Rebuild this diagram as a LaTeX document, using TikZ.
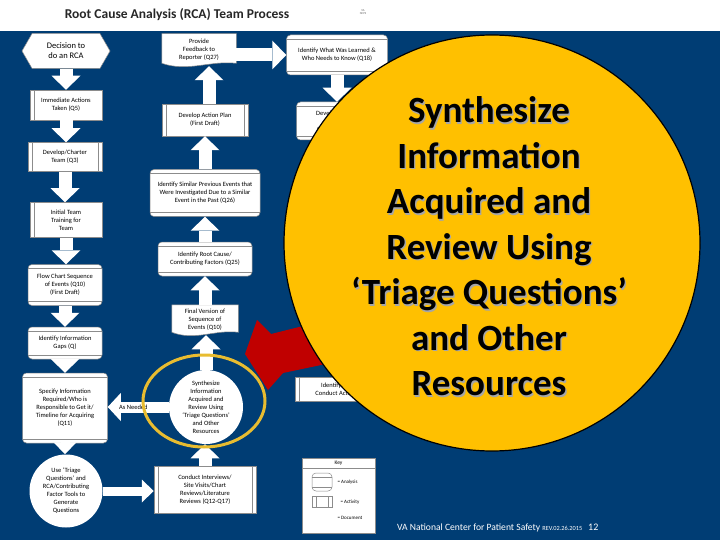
\documentclass[tikz,border=0pt]{standalone}
\usepackage{fontspec}
\setmainfont{Carlito}
\usetikzlibrary{shapes.symbols,shapes.geometric,arrows.meta,calc}
\pgfdeclarelayer{bg}\pgfdeclarelayer{back}\pgfdeclarelayer{front}
\pgfsetlayers{bg,back,main,front}
\definecolor{vablue}{RGB}{0,61,116}
\definecolor{circyellow}{RGB}{255,192,0}
\definecolor{ringyellow}{RGB}{232,188,48}
\definecolor{arrowred}{RGB}{192,0,0}
\definecolor{boxline}{RGB}{140,140,140}
\tikzset{
 box/.style={fill=white, draw=boxline, line width=0.5pt, align=center,
   font=\fontsize{6.5}{8}\selectfont, inner sep=1pt, text=black},
 act/.style={box, rectangle, path picture={\draw[boxline,line width=0.6pt]
   ([xshift=4pt]path picture bounding box.north west) -- ([xshift=4pt]path picture bounding box.south west)
   ([xshift=-4pt]path picture bounding box.north east) -- ([xshift=-4pt]path picture bounding box.south east);}},
 actL/.style={box, rectangle, path picture={\draw[boxline,line width=0.6pt]
   ([xshift=4pt]path picture bounding box.north west) -- ([xshift=4pt]path picture bounding box.south west);}},
 ana/.style={box, rectangle, rounded corners=4pt, path picture={\draw[boxline,line width=0.6pt]
   ([yshift=-4pt]path picture bounding box.north west) -- ([yshift=-4pt]path picture bounding box.north east)
   ([yshift=4pt]path picture bounding box.south west) -- ([yshift=4pt]path picture bounding box.south east);}},
 docn/.style={box, rectangle, draw=none, fill=none},
 barrow/.style={draw=white, line width=13pt, -{Triangle[width=29pt,length=14pt,line width=0pt]}},
 tarrow/.style={draw=white, line width=9pt, -{Triangle[width=23pt,length=12pt,line width=0pt]}},
 narrow/.style={draw=white, line width=11pt, -{Triangle[width=28pt,length=13pt,line width=0pt]}},
 bigtext/.style={font=\fontsize{37}{45.5}\selectfont\bfseries, align=center},
}
\newcommand{\docbg}[1]{\begin{pgfonlayer}{back}\filldraw[fill=white,draw=boxline,line width=0.5pt]
  (#1.north west) -- ([yshift=3pt]#1.south west)
  .. controls ($(#1.south west)!0.35!(#1.south east)+(0,6)$) and ($(#1.south west)!0.65!(#1.south east)+(0,-6)$)
  .. ([yshift=3pt]#1.south east) -- (#1.north east) -- cycle;\end{pgfonlayer}}
\begin{document}
\begin{tikzpicture}[x=1pt,y=-1pt]
\useasboundingbox (0,0) rectangle (720,540);
\begin{pgfonlayer}{bg}
\fill[white] (0,0) rectangle (720,540);
\fill[vablue] (0,31) rectangle (720,540);
\end{pgfonlayer}
% header and footer
\node[font=\fontsize{13.5}{15}\selectfont\bfseries, text=black!85] (title) at (177,15) {Root Cause Analysis (RCA) Team Process};
\node[font=\fontsize{3}{3.5}\selectfont, text=black!60, align=center] (logo) at (363,12) {VA\\NCPS};
\node[anchor=base west, text=white, font=\fontsize{9.6}{10}\selectfont, inner sep=0pt] (foot) at (397,530)
  {VA National Center for Patient Safety {\fontsize{6.3}{7}\selectfont REV.02.26.2015}\hspace{6pt}{\fontsize{10}{10}\selectfont 12}};
% left column
\node[box, shape=signal, signal to=east and west, signal pointer angle=120, minimum width=88pt, minimum height=35pt,
  font=\fontsize{8.5}{10}\selectfont] (b1) at (66,51) {Decision to\\do an RCA};
\node[actL, minimum width=72pt, minimum height=30pt] (b2) at (66,105) {Immediate Actions\\Taken (Q5)};
\node[act, minimum width=74pt, minimum height=29pt] (b3) at (65,157) {Develop/Charter\\Team (Q3)};
\node[actL, minimum width=72pt, minimum height=35pt] (b4) at (66,220) {Initial Team\\Training for\\Team};
\node[ana, minimum width=74pt, minimum height=41pt] (b5) at (65,285) {Flow Chart Sequence\\of Events (Q10)\\(First Draft)};
\node[ana, minimum width=74pt, minimum height=32pt] (b6) at (65,343) {Identify Information\\Gaps (Q)};
\node[ana, minimum width=85pt, minimum height=70pt] (b7) at (65,408) {Specify Information\\Required/Who is\\Responsible to Get it/\\Timeline for Acquiring\\(Q11)};
\node[box, circle, draw=none, minimum size=73pt] (b8) at (66,491) {Use ‘Triage\\Questions’ and\\RCA/Contributing\\Factor Tools to\\Generate\\Questions};
% middle column
\node[docn, minimum width=74pt, minimum height=32pt] (m1) at (199,50) {Provide\\Feedback to\\Reporter (Q27)};
\docbg{m1}
\node[act, minimum width=86pt, minimum height=32pt] (m2) at (205,120) {Develop Action Plan\\(First Draft)};
\node[ana, minimum width=110pt, minimum height=47pt] (m3) at (205,193) {Identify Similar Previous Events that\\Were Investigated Due to a Similar\\Event in the Past (Q26)};
\node[ana, minimum width=94pt, minimum height=34pt] (m4) at (205,259) {Identify Root Cause/\\Contributing Factors (Q25)};
\node[docn, minimum width=66pt, minimum height=30pt] (m5) at (205,320) {Final Version of\\Sequence of\\Events (Q10)};
\docbg{m5}
\node[box, circle, draw=none, minimum size=74pt] (m6) at (206,407) {Synthesize\\Information\\Acquired and\\Review Using\\‘Triage Questions’\\and Other\\Resources};
\node[act, minimum width=102pt, minimum height=47pt] (m7) at (205,490) {Conduct Interviews/\\Site Visits/Chart\\Reviews/Literature\\Reviews (Q12-Q17)};
% right column
\node[ana, minimum width=101pt, minimum height=40pt] (r1) at (337,55) {Identify What Was Learned \&\\Who Needs to Know (Q18)};
\node[ana, minimum width=83pt, minimum height=38pt] (r2) at (338,121) {Develop Lessons\\Learned\\Communication};
\node[act, minimum width=84pt, minimum height=24pt] (r3) at (337,389) {Identify and\\Conduct Actions};
% key
\node[box, rectangle, minimum width=73pt, minimum height=75pt] (key) at (338.5,495.5) {};
\node[font=\fontsize{5.5}{6}\selectfont, text=black] (keyt) at (338.5,463) {Key};
\draw[boxline, line width=0.5pt] ([yshift=-10pt]key.north west) -- ([yshift=-10pt]key.north east);
\node[ana, minimum width=20pt, minimum height=18pt] (k1) at (322,482) {};
\node[act, minimum width=20pt, minimum height=11pt] (k2) at (322,502) {};
\node[docn, minimum width=20pt, minimum height=11pt] (k3) at (322,518) {};
\docbg{k3}
\node[anchor=west, font=\fontsize{5}{6}\selectfont, text=black] (k1t) at (334,482) {= Analysis};
\node[anchor=west, font=\fontsize{5}{6}\selectfont, text=black] (k2t) at (337,502) {= Activity};
\node[anchor=west, font=\fontsize{5}{6}\selectfont, text=black] (k3t) at (334,518) {= Document};
% connectors
\draw[barrow] (b1.south) -- (b1.south |- b2.north);
\draw[barrow] (b2.south) -- (b2.south |- b3.north);
\draw[barrow] (b3.south) -- (b3.south |- b4.north);
\draw[barrow] (b4.south) -- (b4.south |- b5.north);
\draw[barrow] (b5.south) -- (b5.south |- b6.north);
\draw[barrow] (b6.south) -- (b6.south |- b7.north);
\draw[tarrow] (b7.south) -- (b7.south |- b8.north);
\draw[tarrow] (b8.east) -- (b8.east -| m7.west);
\draw[barrow] (m7.north) -- (m7.north |- m6.south);
\draw[barrow] (m6.north) -- (m6.north |- m5.south);
\draw[barrow] (m5.north) -- (m5.north |- m4.south);
\draw[barrow] (m4.north) -- (m4.north |- m3.south);
\draw[barrow] (m3.north) -- (m3.north |- m2.south);
\draw[barrow] ([xshift=4pt]m2.north) -- ([xshift=4pt]m2.north |- m1.south);
\draw[barrow] ([yshift=-5pt]m1.east) -- ([yshift=-5pt]m1.east -| r1.west);
\draw[barrow] (r1.south) -- (r1.south |- r2.north);
\draw[narrow] (m6.west) -- node[pos=0.58, font=\fontsize{6.5}{7}\selectfont, text=black] (asn) {As Needed} (m6.west -| b7.east);
\node[draw=ringyellow, line width=3pt, ellipse, minimum width=122pt, minimum height=92pt] (ring) at (204,401) {};
% zoom callout
\begin{pgfonlayer}{front}
\fill[arrowred] (245,354) -- (257,320) -- (271,334) -- (335,318) -- (345,360) -- (283,373) -- (268,390) -- cycle;
\node[circle, fill=circyellow, draw=black, line width=1.2pt, minimum size=416pt, inner sep=0pt] (big) at (492,243) {};
\node[bigtext, text=black!35] (bigsh) at (490.3,247.8) {Synthesize\\Information\\Acquired and\\Review Using\\‘Triage Questions’\\and Other\\Resources};
\node[bigtext, text=black] (bigt) at (489,246.5) {Synthesize\\Information\\Acquired and\\Review Using\\‘Triage Questions’\\and Other\\Resources};
\end{pgfonlayer}
\end{tikzpicture}
\end{document}
